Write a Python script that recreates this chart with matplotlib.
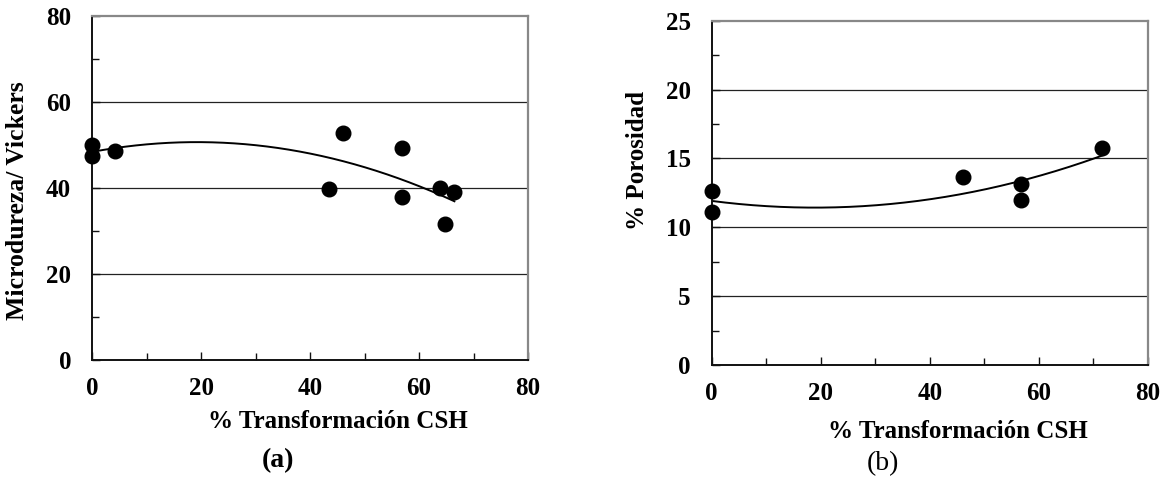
import numpy as np
import matplotlib
matplotlib.use("Agg")
import matplotlib.pyplot as plt
from matplotlib.ticker import MultipleLocator

plt.rcParams["font.family"] = ["Liberation Serif", "DejaVu Serif"]

# (a) microhardness vs CSH transformation
csh_a = [0, 0, 4.2, 43.4, 46.1, 56.8, 56.8, 63.9, 64.8, 66.5]
hv_a = [50.0, 47.5, 48.7, 39.7, 52.7, 49.4, 38.0, 39.9, 31.6, 39.0]

# (b) porosity vs CSH transformation
csh_b = [0, 0, 46.2, 56.8, 56.8, 71.7]
por_b = [12.66, 11.09, 13.63, 13.12, 11.98, 15.76]

W, H = 1165, 478
fig = plt.figure(figsize=(W / 100, H / 100), dpi=100)


def px_axes(x0, y0, x1, y1):
    return fig.add_axes([x0 / W, 1 - y1 / H, (x1 - x0) / W, (y1 - y0) / H])


def style(ax, ymax, ymaj, ymin):
    ax.set_xlim(0, 80)
    ax.set_ylim(0, ymax)
    ax.xaxis.set_major_locator(MultipleLocator(20))
    ax.xaxis.set_minor_locator(MultipleLocator(10))
    ax.yaxis.set_major_locator(MultipleLocator(ymaj))
    ax.yaxis.set_minor_locator(MultipleLocator(ymin))
    for y in np.arange(ymaj, ymax, ymaj):
        ax.axhline(y, color="#222222", lw=0.9, zorder=1)
    for s in ["top", "right"]:
        ax.spines[s].set_color("#888888")
        ax.spines[s].set_linewidth(1.6)
    for s in ["left", "bottom"]:
        ax.spines[s].set_color("#111111")
        ax.spines[s].set_linewidth(1.4)
    ax.tick_params(which="both", direction="in", top=False, right=False,
                   width=1.0, color="#111111")
    ax.tick_params(which="major", length=6, labelsize=18)
    ax.tick_params(axis="y", which="major", pad=15)
    ax.tick_params(axis="x", which="major", pad=12)
    ax.tick_params(which="minor", length=5)
    for lab in ax.get_xticklabels() + ax.get_yticklabels():
        lab.set_fontweight("bold")


def trend(ax, x, y):
    c = np.polyfit(x, y, 2)
    xs = np.linspace(min(x), max(x), 200)
    ax.plot(xs, np.polyval(c, xs), color="black", lw=1.4, zorder=2)
    ax.plot(x, y, "o", color="black", ms=10.5, zorder=3, clip_on=False)


ax1 = px_axes(92, 16, 528, 360)
style(ax1, 80, 20, 10)
trend(ax1, csh_a, hv_a)

ax2 = px_axes(711.7, 20.7, 1147.7, 365)
style(ax2, 25, 5, 2.5)
trend(ax2, csh_b, por_b)

lab_kw = dict(fontsize=18, fontweight="bold", ha="center", va="center")
fig.text(338 / W, 1 - 422 / H, "% Transformación CSH", **lab_kw)
fig.text(958 / W, 1 - 431 / H, "% Transformación CSH", **lab_kw)
fig.text(18 / W, 1 - 201 / H, "Microdureza/ Vickers", rotation=90,
         **dict(lab_kw, fontsize=18.5))
fig.text(637 / W, 1 - 160 / H, "% Porosidad", rotation=90, **lab_kw)

fig.text(278 / W, 1 - 461 / H, "(a)", fontsize=20, fontweight="bold",
         ha="center", va="center")
fig.text(883 / W, 1 - 464 / H, "(b)", fontsize=20, ha="center", va="center")

fig.savefig("out.png", dpi=100)
